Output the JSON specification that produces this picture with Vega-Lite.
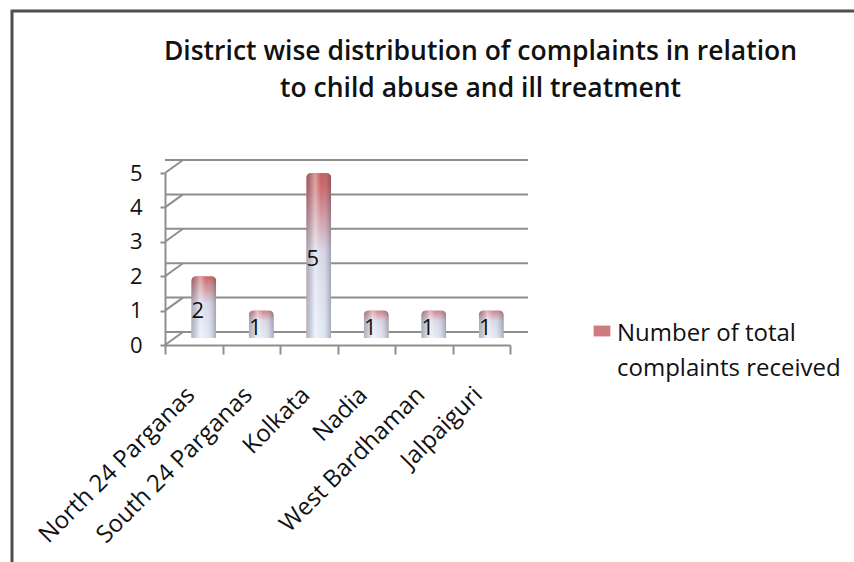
{
  "$schema": "https://vega.github.io/schema/vega-lite/v6.json",
  "width": 345,
  "height": 172,
  "autosize": "none",
  "padding": {"left": 165, "top": 173, "right": 344, "bottom": 217},
  "background": "white",
  "config": {"view": {"stroke": null}, "font": "Open Sans", "legend": {"strokeWidth": 3}},
  "title": {
    "text": ["District wise distribution of complaints  in relation", "to  child abuse and ill treatment"],
    "fontSize": 26.5,
    "fontWeight": 600,
    "font": "Open Sans",
    "color": "#111111",
    "anchor": "middle",
    "frame": "group",
    "dx": 143,
    "offset": -93,
    "lineHeight": 37
  },
  "datasets": {
    "complaints": [
      {"district": "North 24 Parganas", "complaints": 2, "series": "Number of total complaints received"},
      {"district": "South 24 Parganas", "complaints": 1, "series": "Number of total complaints received"},
      {"district": "Kolkata", "complaints": 5, "series": "Number of total complaints received"},
      {"district": "Nadia", "complaints": 1, "series": "Number of total complaints received"},
      {"district": "West Bardhaman", "complaints": 1, "series": "Number of total complaints received"},
      {"district": "Jalpaiguri", "complaints": 1, "series": "Number of total complaints received"}
    ],
    "grid": [{"level": 0}, {"level": 1}, {"level": 2}, {"level": 3}, {"level": 4}, {"level": 5}]
  },
  "resolve": {"scale": {"x": "independent"}},
  "layer": [
    {
      "data": {"name": "grid"},
      "mark": {"type": "rule", "xOffset": 18, "yOffset": -13, "color": "#8e8e8e", "strokeWidth": 2},
      "encoding": {
        "y": {"field": "level", "type": "quantitative", "scale": {"domain": [0, 5]}}
      }
    },
    {
      "data": {"name": "grid"},
      "mark": {"type": "rule", "x2Offset": 18, "y2Offset": -13, "color": "#8e8e8e", "strokeWidth": 2},
      "encoding": {
        "x": {"datum": 0, "type": "quantitative", "scale": {"domain": [0, 1]}, "axis": null},
        "x2": {"datum": 0},
        "y": {"field": "level", "type": "quantitative"},
        "y2": {"field": "level"}
      }
    },
    {
      "data": {"name": "complaints"},
      "layer": [
        {
          "mark": {"type": "bar", "size": 25, "xOffset": 10, "yOffset": -7, "y2Offset": -7, "strokeWidth": 0, "cornerRadiusTopLeft": 5, "cornerRadiusTopRight": 5},
          "encoding": {
            "x": {
              "field": "district", "type": "nominal", "sort": null,
              "scale": {"paddingInner": 0, "paddingOuter": 0},
              "axis": {
                "title": null, "tickBand": "extent", "tickSize": 9, "tickColor": "#8e8e8e", "tickWidth": 2,
                "domainColor": "#8e8e8e", "domainWidth": 2, "labelAngle": -45, "labelAlign": "right",
                "labelBaseline": "middle", "labelFontSize": 24, "labelColor": "#111111", "labelPadding": 37,
                "labelOffset": -3, "labelFont": "Open Sans", "labelLimit": 400
              }
            },
            "y": {
              "field": "complaints", "type": "quantitative",
              "axis": {
                "title": null, "values": [0, 1, 2, 3, 4, 5], "tickCount": 6, "grid": false, "tickSize": 5,
                "tickColor": "#8e8e8e", "tickWidth": 2, "domainColor": "#8e8e8e", "domainWidth": 2,
                "labelFontSize": 22, "labelColor": "#111111", "labelPadding": 18, "labelFont": "Open Sans",
                "labelOverlap": false, "labelFlush": false
              }
            },
            "fill": {
              "field": "series", "type": "nominal",
              "scale": {"range": ["#d07a80"]},
              "legend": {
                "title": null, "orient": "none", "legendX": 425, "legendY": 146,
                "symbolType": "M-1,-0.65H1V0.65H-1Z", "symbolSize": 280, "symbolStrokeWidth": 0,
                "labelFontSize": 24, "labelColor": "#111111", "labelFont": "Open Sans", "labelBaseline": "top",
                "labelExpr": "['Number of total', 'complaints received']", "labelLimit": 400, "labelOffset": 3,
                "encode": {
                  "labels": {"update": {"lineHeight": {"value": 35}, "dy": {"value": -9}}}
                }
              }
            }
          }
        },
        {
          "mark": {
            "type": "bar", "size": 25, "xOffset": 10, "yOffset": -7, "y2Offset": -7, "cornerRadiusTopLeft": 5, "cornerRadiusTopRight": 5,
            "fill": {
              "gradient": "linear", "x1": 0, "y1": 0, "x2": 0, "y2": 1,
              "stops": [
                {"offset": 0, "color": "#c0504d"},
                {"offset": 0.12, "color": "#c95e60"},
                {"offset": 0.5, "color": "#d9d6e6"},
                {"offset": 1, "color": "#e2eaf6"}
              ]
            }
          },
          "encoding": {
            "x": {"field": "district", "type": "nominal", "sort": null},
            "y": {"field": "complaints", "type": "quantitative"}
          }
        },
        {
          "mark": {
            "type": "bar", "size": 25, "xOffset": 10, "yOffset": -7, "y2Offset": -7, "cornerRadiusTopLeft": 5, "cornerRadiusTopRight": 5,
            "fill": {
              "gradient": "linear", "x1": 0, "y1": 0, "x2": 1, "y2": 0,
              "stops": [
                {"offset": 0, "color": "rgba(70,80,100,0.35)"},
                {"offset": 0.35, "color": "rgba(255,255,255,0.45)"},
                {"offset": 0.6, "color": "rgba(255,255,255,0.05)"},
                {"offset": 1, "color": "rgba(60,70,90,0.4)"}
              ]
            }
          },
          "encoding": {
            "x": {"field": "district", "type": "nominal", "sort": null},
            "y": {"field": "complaints", "type": "quantitative"}
          }
        },
        {
          "transform": [
            {"calculate": "datum.complaints / 2", "as": "mid"},
            {"calculate": "'frame'", "as": "frameKey"}
          ],
          "mark": {"type": "text", "fontSize": 22, "color": "#111111", "dx": 4, "font": "Open Sans"},
          "encoding": {
            "x": {"field": "district", "type": "nominal", "sort": null},
            "y": {"field": "mid", "type": "quantitative"},
            "text": {"field": "complaints", "type": "quantitative"},
            "opacity": {
              "field": "frameKey", "type": "ordinal",
              "scale": {"range": [1]},
              "legend": {
                "title": null, "orient": "none", "legendX": -153, "legendY": -162,
                "padding": 440, "strokeColor": "#4f4f4f",
                "symbolSize": 0, "symbolOpacity": 0, "symbolStrokeWidth": 0, "labelExpr": "''", "labelFontSize": 1
              }
            }
          }
        }
      ]
    }
  ]
}
